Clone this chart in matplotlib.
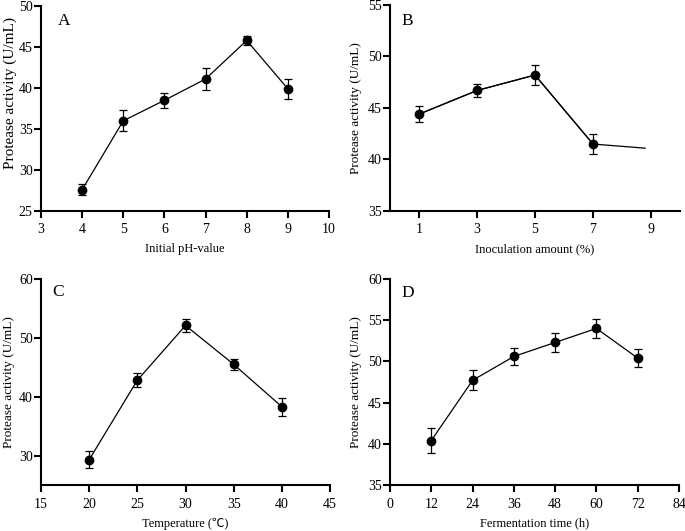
import matplotlib
matplotlib.use("Agg")
import matplotlib.pyplot as plt

plt.rcParams['font.family'] = ['Liberation Serif', 'Noto Sans CJK SC', 'DejaVu Sans']
plt.rcParams['font.size'] = 9

# Panel A: initial pH
ph = [4, 5, 6, 7, 8, 9]
ph_act = [27.6, 36.0, 38.5, 41.1, 45.8, 39.9]
ph_err = [0.7, 1.3, 0.9, 1.3, 0.6, 1.2]

# Panel B: inoculation amount (%), last point is line end only
inoc = [1, 3, 5, 7, 8.8]
inoc_act = [44.4, 46.7, 48.2, 41.5, 41.1]
inoc_err = [0.75, 0.65, 0.95, 1.0]

# Panel C: temperature
temp = [20, 25, 30, 35, 40]
temp_act = [29.3, 42.8, 52.1, 45.5, 38.3]
temp_err = [1.4, 1.2, 1.1, 0.9, 1.5]

# Panel D: fermentation time
ferm = [12, 24, 36, 48, 60, 72]
ferm_act = [40.4, 47.7, 50.6, 52.3, 54.0, 50.4]
ferm_err = [1.5, 1.2, 1.05, 1.1, 1.1, 1.1]

W, H = 685, 531
fig = plt.figure(figsize=(W / 100, H / 100), dpi=100)


def make_ax(l, r, t, b):
    return fig.add_axes([l / W, 1 - b / H, (r - l) / W, (b - t) / H])


def style(ax, letter, xlabel, ylab_size=9.5, ylab_pad=4, letter_x=0.04, letter_y=0.93):
    for s in ['top', 'right']:
        ax.spines[s].set_visible(False)
    for s in ['left', 'bottom']:
        ax.spines[s].set_linewidth(1.5)
    ax.tick_params(width=1.5, length=5)
    ax.tick_params(axis='x', labelsize=10, pad=4)
    ax.tick_params(axis='y', labelsize=10, pad=1)
    ax.set_ylabel("Protease activity (U/mL)", fontsize=ylab_size, labelpad=ylab_pad)
    ax.set_xlabel(xlabel, fontsize=9, labelpad=5)
    ax.text(letter_x, letter_y, letter, transform=ax.transAxes, fontsize=12.5,
            ha='left', va='center')


def draw(ax, x, y, e):
    ax.errorbar(x, y, yerr=e, color='black', lw=0.9, marker='o', ms=6,
                capsize=3, elinewidth=0.9, capthick=0.9, clip_on=False)


axA = make_ax(41, 329, 6, 211)
draw(axA, ph, ph_act, ph_err)
axA.set_xlim(3, 10)
axA.set_ylim(25, 50)
axA.set_xticks(range(3, 11))
axA.set_yticks(range(25, 51, 5))
style(axA, "A", "Initial pH-value", ylab_size=11, letter_x=0.058, letter_y=0.927)
axA.yaxis.set_label_coords(-0.085, 0.575)

axB = make_ax(390, 680, 5, 211)
axB.plot(inoc, inoc_act, color='black', lw=0.9)
draw(axB, inoc[:4], inoc_act[:4], inoc_err)
axB.set_xlim(0, 10)
axB.set_ylim(35, 55)
axB.set_xticks([1, 3, 5, 7, 9])
axB.set_yticks(range(35, 56, 5))
style(axB, "B", "Inoculation amount (%)", letter_x=0.041, letter_y=0.922)

axC = make_ax(41, 330, 279, 485)
draw(axC, temp, temp_act, temp_err)
axC.set_xlim(15, 45)
axC.set_ylim(25, 60)
axC.set_xticks(range(15, 46, 5))
axC.set_yticks([30, 40, 50, 60])
style(axC, "C", "Temperature (\u2103)", ylab_pad=3, letter_x=0.038, letter_y=0.937)

axD = make_ax(390, 679, 279, 485)
draw(axD, ferm, ferm_act, ferm_err)
axD.set_xlim(0, 84)
axD.set_ylim(35, 60)
axD.set_xticks(range(0, 85, 12))
axD.set_yticks(range(35, 61, 5))
style(axD, "D", "Fermentation time (h)", letter_x=0.041, letter_y=0.932)

fig.savefig("out.png", dpi=100)
